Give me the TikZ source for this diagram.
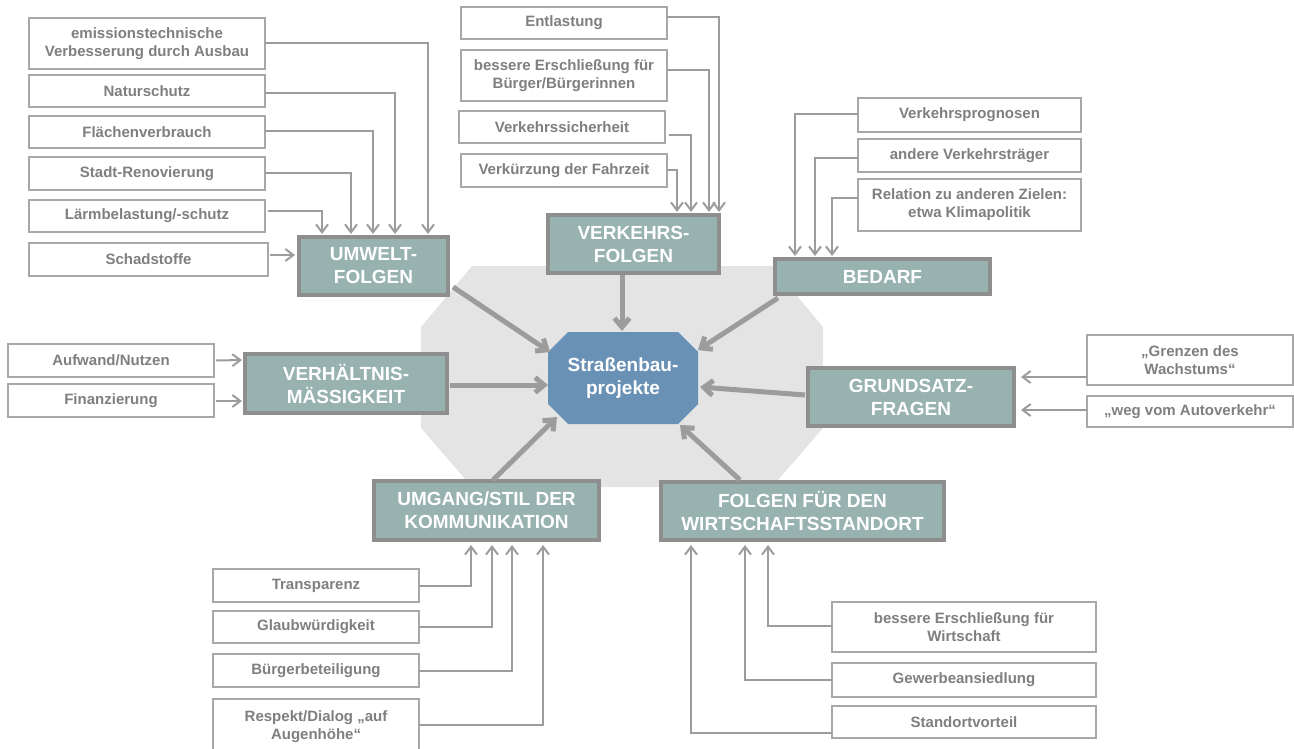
\documentclass[tikz,border=0pt]{standalone}
\usepackage{fontspec}
\setmainfont{Liberation Sans}
\usetikzlibrary{arrows.meta,calc}
\definecolor{tealbox}{HTML}{97B2AF}
\definecolor{bordgray}{HTML}{8E8E8E}
\definecolor{linegray}{HTML}{9C9C9C}
\definecolor{bggray}{HTML}{E4E4E4}
\definecolor{centerblue}{HTML}{6990B5}
\definecolor{txtgray}{HTML}{7F7F7F}
\definecolor{sboxgray}{HTML}{A8A8A8}
\tikzset{
  sbox/.style={draw=sboxgray, line width=1.2pt, fill=white, text=txtgray,
    font=\fontsize{15}{18}\selectfont\bfseries, align=center, inner sep=0pt, outer sep=0pt, rectangle},
  bbox/.style={draw=bordgray, line width=4pt, fill=tealbox, text=white,
    font=\fontsize{19}{23}\selectfont\bfseries, align=center, inner sep=0pt, outer sep=2pt, rectangle},
  cnode/.style={text=white, font=\fontsize{19}{23}\selectfont\bfseries, align=center, inner sep=0pt},
  conn/.style={draw=linegray, line width=2pt, -{Straight Barb[length=8pt,width=12pt]}},
  thickconn/.style={draw=linegray, line width=5pt, -{Straight Barb[length=9pt,width=15pt]}},
}
\begin{document}
\begin{tikzpicture}[x=1pt,y=-1pt]
\useasboundingbox (0,0) rectangle (1294,749);
% background octagon
\fill[bggray] (421,327) -- (472,266) -- (772,266) -- (823,327) -- (823,428) -- (772,487) -- (472,487) -- (421,428) -- cycle;
% center octagon
\fill[centerblue] (548,352) -- (568,332) -- (678,332) -- (698,352) -- (698,404) -- (678,424) -- (568,424) -- (548,404) -- cycle;
\node[cnode] (c) at (623,378) {Straßenbau-\\projekte};

% main nodes
\node[bbox, minimum width=149pt, minimum height=58pt] (umw) at (373.5,266) {UMWELT-\\FOLGEN};
\node[bbox, minimum width=171pt, minimum height=58pt] (verk) at (633.5,244) {VERKEHRS-\\FOLGEN};
\node[bbox, minimum width=215pt, minimum height=35pt] (bed) at (882.5,276.5) {BEDARF};
\node[bbox, minimum width=206pt, minimum height=58pt] (grund) at (911,397) {GRUNDSATZ-\\FRAGEN};
\node[bbox, minimum width=202pt, minimum height=59pt] (verh) at (346,383.5) {VERHÄLTNIS-\\MÄSSIGKEIT};
\node[bbox, minimum width=225pt, minimum height=59pt] (umg) at (486.5,510.5) {UMGANG/STIL DER\\KOMMUNIKATION};
\node[bbox, minimum width=283pt, minimum height=58pt] (wirt) at (802.5,511) {FOLGEN FÜR DEN\\WIRTSCHAFTSSTANDORT};

% UMWELT group
\node[sbox, minimum width=236pt, minimum height=51pt] (e1) at (147,43.5) {emissionstechnische\\Verbesserung durch Ausbau};
\node[sbox, minimum width=236pt, minimum height=32pt] (e2) at (147,91) {Naturschutz};
\node[sbox, minimum width=236pt, minimum height=32pt] (e3) at (147,132) {Flächenverbrauch};
\node[sbox, minimum width=236pt, minimum height=33pt] (e4) at (147,173.5) {Stadt-Renovierung};
\node[sbox, minimum width=236pt, minimum height=32pt] (e5) at (147,216) {Lärmbelastung/-schutz};
\node[sbox, minimum width=239pt, minimum height=33pt] (e6) at (148.5,259.5) {Schadstoffe};
\draw[conn] (e1.east) -| ([shift={(54.5,-1)}]umw.north);
\draw[conn] ([shift={(0,2)}]e2.east) -| ([shift={(21.5,-1)}]umw.north);
\draw[conn] ([shift={(0,-1)}]e3.east) -| ([shift={(-0.5,-1)}]umw.north);
\draw[conn] ([shift={(0,-0.5)}]e4.east) -| ([shift={(-22.5,-1)}]umw.north);
\draw[conn] ([shift={(3,-5)}]e5.east) -| ([shift={(-51.5,-1)}]umw.north);
\draw[conn] ([shift={(2,-4.5)}]e6.east) -- ([shift={(-2,-11)}]umw.west);

% VERKEHRS group
\node[sbox, minimum width=206pt, minimum height=32pt] (v1) at (564,23) {Entlastung};
\node[sbox, minimum width=206pt, minimum height=51pt] (v2) at (564,75.5) {bessere Erschließung für\\Bürger/Bürgerinnen};
\node[sbox, minimum width=206pt, minimum height=32pt] (v3) at (562,127) {Verkehrssicherheit};
\node[sbox, minimum width=206pt, minimum height=33pt] (v4) at (564,170.5) {Verkürzung der Fahrzeit};
\draw[conn] ([shift={(0,-6)}]v1.east) -| ([shift={(85.5,-1)}]verk.north);
\draw[conn] ([shift={(0,-5.5)}]v2.east) -| ([shift={(75.5,-1)}]verk.north);
\draw[conn] ([shift={(4,8)}]v3.east) -| ([shift={(57.5,-1)}]verk.north);
\draw[conn] (v4.east) -| ([shift={(43.5,-1)}]verk.north);

% BEDARF group
\node[sbox, minimum width=223pt, minimum height=34pt] (b1) at (969.5,115) {Verkehrsprognosen};
\node[sbox, minimum width=223pt, minimum height=33pt] (b2) at (969.5,155.5) {andere Verkehrsträger};
\node[sbox, minimum width=223pt, minimum height=52pt] (b3) at (969.5,205) {Relation zu anderen Zielen:\\etwa Klimapolitik};
\draw[conn] ([shift={(0,-1)}]b1.west) -| ([shift={(-87.5,-1)}]bed.north);
\draw[conn] ([shift={(0,2.5)}]b2.west) -| ([shift={(-67.5,-1)}]bed.north);
\draw[conn] ([shift={(0,-7)}]b3.west) -| ([shift={(-50.5,-1)}]bed.north);

% GRUNDSATZ group
\node[sbox, minimum width=206pt, minimum height=50pt] (g1) at (1190,360) {„Grenzen des\\Wachstums“};
\node[sbox, minimum width=206pt, minimum height=31pt] (g2) at (1190,411.5) {„weg vom Autoverkehr“};
\draw[conn] ([shift={(0,17)}]g1.west) -- ([shift={(5,-20)}]grund.east);
\draw[conn] ([shift={(0,-1.5)}]g2.west) -- ([shift={(5,13)}]grund.east);

% VERHAELTNIS group
\node[sbox, minimum width=206pt, minimum height=33pt] (h1) at (111,360.5) {Aufwand/Nutzen};
\node[sbox, minimum width=206pt, minimum height=33pt] (h2) at (111,400.5) {Finanzierung};
\draw[conn] ([shift={(2,0)}]h1.east) -- ([shift={(-1,-23.5)}]verh.west);
\draw[conn] ([shift={(2,0.5)}]h2.east) -- ([shift={(-1,17.5)}]verh.west);

% UMGANG group
\node[sbox, minimum width=206pt, minimum height=33pt] (u1) at (316,585.5) {Transparenz};
\node[sbox, minimum width=206pt, minimum height=32pt] (u2) at (316,627) {Glaubwürdigkeit};
\node[sbox, minimum width=206pt, minimum height=33pt] (u3) at (316,670.5) {Bürgerbeteiligung};
\node[sbox, minimum width=206pt, minimum height=56pt] (u4) at (316,727) {Respekt/Dialog „auf\\Augenhöhe“};
\draw[conn] (u1.east) -| ([shift={(-15.5,3)}]umg.south);
\draw[conn] (u2.east) -| ([shift={(5.5,3)}]umg.south);
\draw[conn] (u3.east) -| ([shift={(25.5,3)}]umg.south);
\draw[conn] ([shift={(0,-2)}]u4.east) -| ([shift={(56.5,3)}]umg.south);

% WIRTSCHAFT group
\node[sbox, minimum width=264pt, minimum height=50pt] (w1) at (964,627) {bessere Erschließung für\\Wirtschaft};
\node[sbox, minimum width=264pt, minimum height=34pt] (w2) at (964,680) {Gewerbeansiedlung};
\node[sbox, minimum width=264pt, minimum height=32pt] (w3) at (964,722) {Standortvorteil};
\draw[conn] ([shift={(0,-1)}]w1.west) -| ([shift={(-34.5,3)}]wirt.south);
\draw[conn] (w2.west) -| ([shift={(-57.5,3)}]wirt.south);
\draw[conn] ([shift={(0,11)}]w3.west) -| ([shift={(-111.5,3)}]wirt.south);

% thick arrows to center
\draw[thickconn] ([shift={(3,-10)}]umw.south east) -- ([shift={(-73,-26)}]c.center);
\draw[thickconn] ([shift={(-11.5,0)}]verk.south) -- ([shift={(-1,-47)}]c.center);
\draw[thickconn] ([shift={(5,2)}]bed.south west) -- ([shift={(75,-28)}]c.center);
\draw[thickconn] ([shift={(1,1.5)}]verh.east) -- ([shift={(-75,7)}]c.center);
\draw[thickconn] ([shift={(-1,-2)}]grund.west) -- ([shift={(77,9)}]c.center);
\draw[thickconn] ([shift={(6.5,1)}]umg.north) -- ([shift={(-66,39)}]c.center);
\draw[thickconn] ([shift={(-62.5,0)}]wirt.north) -- ([shift={(57,47)}]c.center);
\end{tikzpicture}
\end{document}
